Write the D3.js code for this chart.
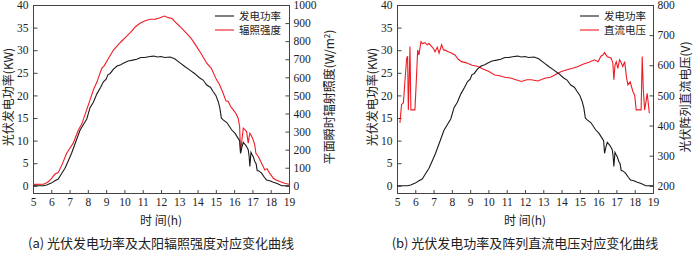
<!doctype html>
<html lang="zh">
  <head>
    <meta charset="UTF-8" />
    <title>光伏发电功率曲线</title>
    <script src="https://d3js.org/d3.v7.min.js"></script>
    <style>
      body { margin: 0; background: #fff; }
      svg { display: block; }
      .num { font-family: 'Liberation Serif', 'Times New Roman', serif; font-size: 11.5px; fill: #222; }
      .cjk { font-family: 'Noto Sans CJK SC', sans-serif; fill: #222; }
      .frame { fill: none; stroke: #444; stroke-width: 1; }
      .tick line { stroke: #444; }
      .domain { display: none; }
    </style>
  </head>
  <body>
    <svg id="chart" width="694" height="253"></svg>
    <script>
      // power output (kW), same series in both panels
      const powerHours = [5, 5.57, 5.75, 6.0, 6.2, 6.38, 6.55, 6.75, 6.95, 7.11, 7.3, 7.48, 7.57, 7.75, 7.94, 8.12, 8.3, 8.5, 8.7, 8.85, 9.0, 9.1, 9.21, 9.4, 9.6, 9.8, 9.94, 10.2, 10.45, 10.67, 10.9, 11.1, 11.4, 11.6, 11.8, 12.0, 12.2, 12.5, 12.75, 13.04, 13.3, 13.58, 13.85, 14.1, 14.3, 14.5, 14.7, 14.86, 15.0, 15.13, 15.22, 15.3, 15.4, 15.6, 15.86, 16.05, 16.22, 16.3, 16.35, 16.42, 16.5, 16.65, 16.77, 16.82, 16.86, 16.92, 16.97, 17.05, 17.13, 17.2, 17.26, 17.35, 17.5, 17.65, 17.77, 17.95, 18.14, 18.35, 18.6, 19]
      const powerKW = [0, 0, 0.2, 0.6, 1.1, 1.5, 2.6, 3.9, 5.7, 7.2, 9.3, 11.3, 12.3, 13.5, 14.8, 17.3, 18.5, 20.4, 21.8, 23.0, 23.6, 24.6, 24.8, 25.8, 26.5, 26.8, 27.1, 27.6, 27.8, 28.0, 28.4, 28.4, 28.6, 28.7, 28.5, 28.6, 28.4, 28.5, 28.1, 27.2, 26.4, 25.6, 24.8, 23.9, 23.4, 22.3, 21.8, 20.8, 20.0, 18.6, 17.2, 15.0, 14.6, 14.0, 12.4, 11.6, 10.5, 10.0, 7.2, 8.5, 9.6, 8.9, 8.0, 6.5, 4.3, 7.4, 7.0, 6.4, 5.4, 4.9, 3.4, 3.3, 2.8, 1.9, 1.3, 1.1, 0.8, 0.5, 0, 0]

      // solar irradiance (W/m²), left panel, right axis
      const irrHours = [5, 5.57, 5.8, 6.0, 6.2, 6.38, 6.6, 6.84, 7.0, 7.2, 7.48, 7.66, 7.9, 8.12, 8.3, 8.5, 8.76, 8.9, 9.1, 9.4, 9.7, 9.9, 10.1, 10.4, 10.6, 10.85, 11.1, 11.4, 11.7, 11.9, 12.2, 12.4, 12.6, 12.85, 13.1, 13.4, 13.65, 13.95, 14.2, 14.5, 14.75, 15.04, 15.2, 15.4, 15.55, 15.68, 15.8, 15.95, 16.1, 16.22, 16.3, 16.35, 16.42, 16.5, 16.6, 16.68, 16.77, 16.82, 16.86, 16.95, 17.04, 17.12, 17.19, 17.32, 17.5, 17.68, 17.8, 17.92, 18.05, 18.14, 18.3, 18.5, 18.75, 19]
      const irrValues = [8, 9, 20, 38, 65, 73, 120, 180, 205, 236, 309, 340, 410, 475, 530, 575, 650, 665, 700, 751, 785, 805, 825, 855, 880, 899, 912, 921, 922, 928, 939, 930, 925, 899, 875, 843, 815, 770, 730, 678, 650, 586, 560, 512, 470, 466, 440, 420, 400, 374, 328, 180, 250, 319, 310, 300, 236, 270, 291, 275, 254, 230, 180, 162, 125, 88, 95, 73, 55, 42, 32, 24, 14, 9]

      // DC array voltage (V), right panel, right axis
      const voltHours = [5.16, 5.25, 5.35, 5.45, 5.53, 5.58, 5.62, 5.67, 5.71, 5.76, 5.8, 5.9, 5.98, 6.05, 6.13, 6.2, 6.31, 6.4, 6.53, 6.65, 6.75, 6.9, 7.0, 7.08, 7.2, 7.3, 7.44, 7.55, 7.62, 7.8, 8.0, 8.17, 8.35, 8.53, 8.8, 9.1, 9.44, 9.7, 10.0, 10.35, 10.6, 10.9, 11.26, 11.5, 11.8, 12.1, 12.35, 12.7, 13.08, 13.4, 13.7, 13.99, 14.3, 14.6, 14.9, 15.2, 15.5, 15.8, 16.0, 16.15, 16.26, 16.35, 16.5, 16.7, 16.8, 16.86, 16.92, 16.99, 17.08, 17.17, 17.25, 17.35, 17.45, 17.55, 17.63, 17.75, 17.9, 18.0, 18.08, 18.26, 18.35, 18.41, 18.47, 18.54, 18.62, 18.68, 18.75, 18.8]
      const voltValues = [409, 470, 475, 560, 624, 630, 452, 560, 662, 452, 452, 452, 452, 540, 651, 634, 678, 672, 675, 668, 672, 662, 655, 645, 660, 640, 668, 650, 651, 645, 640, 634, 620, 612, 608, 600, 596, 588, 580, 568, 565, 560, 557, 552, 546, 552, 552, 548, 557, 560, 570, 579, 585, 590, 596, 604, 610, 618, 612, 630, 634, 642, 628, 624, 610, 552, 600, 612, 590, 618, 610, 596, 612, 560, 535, 545, 513, 500, 452, 452, 452, 629, 520, 452, 480, 507, 470, 441]

      const xTicks = d3.range(5, 20)
      const kwTicks = [0, 5, 10, 15, 20, 25, 30, 35, 40]
      const irrTicks = [0, 100, 200, 300, 400, 500, 600, 700, 800, 900, 1000]
      const voltTicks = [200, 300, 400, 500, 600, 700, 800]

      const svg = d3.select('#chart')
      const red = '#ee1c25'
      const black = '#1a1a1a'

      function panel(opts) {
        const x = d3.scaleLinear().domain([5, 19]).range([opts.left, opts.left + 256])
        const y = d3.scaleLinear().domain([-1.7, 40]).range([193.5, 5])
        const y2 = d3.scaleLinear().domain(opts.rightDomain).range([193.5, 5])
        const g = svg.append('g')

        g.append('rect')
          .attr('class', 'frame')
          .attr('x', opts.left + 0.5)
          .attr('y', 5.5)
          .attr('width', 256)
          .attr('height', 188)

        // axes with inward ticks
        const fmt = d3.format('d')
        g.append('g')
          .attr('transform', 'translate(0,194)')
          .call(d3.axisBottom(x).tickValues(xTicks).tickFormat(fmt).tickSize(-4).tickPadding(4))
        g.append('g')
          .attr('transform', `translate(${opts.left + 0.5},0)`)
          .call(d3.axisLeft(y).tickValues(kwTicks).tickFormat(fmt).tickSize(-4).tickPadding(5))
        g.append('g')
          .attr('transform', `translate(${opts.left + 256.5},0)`)
          .call(d3.axisRight(y2).tickValues(opts.rightTicks).tickFormat(fmt).tickSize(-4).tickPadding(4))
        g.selectAll('.tick text')
          .attr('class', 'num')
          .attr('fill', null)
          .style('font-family', "'Liberation Serif', serif")
          .style('font-size', '11.5px')

        g.append('path')
          .datum(d3.zip(opts.redHours, opts.redValues))
          .attr('fill', 'none')
          .attr('stroke', red)
          .attr('stroke-width', 1.1)
          .attr('d', d3.line().x((d) => x(d[0])).y((d) => y2(d[1])))

        g.append('path')
          .datum(d3.zip(powerHours, powerKW))
          .attr('fill', 'none')
          .attr('stroke', black)
          .attr('stroke-width', 1.1)
          .attr('d', d3.line().x((d) => x(d[0])).y((d) => y(d[1])))

        // legend
        const lg = g.append('g').attr('transform', `translate(${opts.legendX},0)`)
        ;[['发电功率', black, 16], [opts.redName, red, 30]].forEach(([name, c, ly]) => {
          lg.append('line').attr('x1', 0).attr('x2', 19).attr('y1', ly).attr('y2', ly)
            .attr('stroke', c).attr('stroke-width', 1.1)
          lg.append('text').attr('class', 'cjk').attr('x', 24).attr('y', ly + 4)
            .style('font-size', '10.5px').text(name)
        })

        // axis titles
        g.append('text').attr('class', 'cjk')
          .attr('text-anchor', 'middle')
          .attr('transform', `translate(${opts.left - 20},97) rotate(-90)`)
          .style('font-size', '12px')
          .text('光伏发电功率(KW)')
        g.append('text').attr('class', 'cjk')
          .attr('text-anchor', 'middle')
          .attr('transform', `translate(${opts.left + 256 + opts.rightTitleDx},97) rotate(-90)`)
          .style('font-size', '12px')
          .html(opts.rightTitle)
        g.append('text').attr('class', 'cjk')
          .attr('text-anchor', 'middle')
          .attr('x', opts.left + 128).attr('y', 225)
          .style('font-size', '12px')
          .text('时  间(h)')
        g.append('text').attr('class', 'cjk')
          .attr('text-anchor', 'middle')
          .attr('x', opts.left + 128).attr('y', 248)
          .style('font-size', '13px')
          .text(opts.caption)
      }

      panel({
        left: 33,
        rightDomain: [-1.7 * 25, 1000],
        rightTicks: irrTicks,
        redHours: irrHours,
        redValues: irrValues,
        redName: '辐照强度',
        legendX: 215,
        rightTitle: '平面瞬时辐射照度(W/m<tspan dy="-4" font-size="8">2</tspan><tspan dy="4">)</tspan>',
        rightTitleDx: 45,
        caption: '(a) 光伏发电功率及太阳辐照强度对应变化曲线',
      })

      panel({
        left: 397,
        rightDomain: [200 - 1.7 * 15, 800],
        rightTicks: voltTicks,
        redHours: voltHours,
        redValues: voltValues,
        redName: '直流电压',
        legendX: 580,
        rightTitle: '光伏阵列直流电压(V)',
        rightTitleDx: 37,
        caption: '(b) 光伏发电功率及阵列直流电压对应变化曲线',
      })
    </script>
  </body>
</html>
